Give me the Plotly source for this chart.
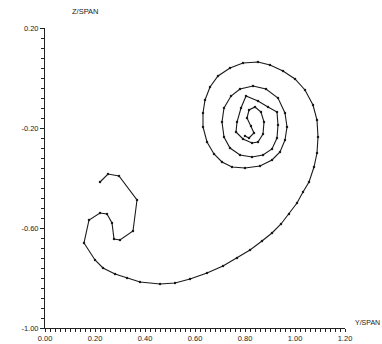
import plotly.graph_objects as go

# Trajectory (Y/SPAN, Z/SPAN)
y_span = [0.220, 0.252, 0.296, 0.368, 0.352, 0.300, 0.276, 0.268, 0.248, 0.220,
          0.176, 0.156, 0.200, 0.232, 0.280, 0.328, 0.380, 0.460, 0.520, 0.580,
          0.648, 0.712, 0.768, 0.820, 0.868, 0.908, 0.944, 0.976, 1.008, 1.032,
          1.056, 1.076, 1.088, 1.092, 1.088, 1.072, 1.040, 1.000, 0.952, 0.900,
          0.852, 0.792, 0.740, 0.692, 0.660, 0.640, 0.632, 0.632, 0.648, 0.676,
          0.708, 0.748, 0.800, 0.860, 0.908, 0.940, 0.960, 0.968, 0.960, 0.932,
          0.884, 0.832, 0.780, 0.744, 0.716, 0.708, 0.716, 0.740, 0.780, 0.828,
          0.872, 0.908, 0.928, 0.932, 0.928, 0.892, 0.852, 0.804, 0.784, 0.768,
          0.764, 0.792, 0.828, 0.852, 0.872, 0.876, 0.864, 0.840, 0.816, 0.808,
          0.824, 0.836, 0.816, 0.800]
z_span = [-0.416, -0.384, -0.392, -0.488, -0.612, -0.648, -0.644, -0.580, -0.544, -0.540,
          -0.568, -0.660, -0.728, -0.760, -0.784, -0.800, -0.816, -0.824, -0.820, -0.804,
          -0.780, -0.752, -0.720, -0.688, -0.652, -0.620, -0.584, -0.544, -0.500, -0.456,
          -0.416, -0.356, -0.300, -0.236, -0.168, -0.108, -0.048, -0.004, 0.028, 0.052,
          0.064, 0.060, 0.040, 0.008, -0.036, -0.088, -0.140, -0.196, -0.256, -0.304,
          -0.336, -0.356, -0.360, -0.352, -0.328, -0.296, -0.248, -0.196, -0.140, -0.080,
          -0.044, -0.032, -0.044, -0.072, -0.120, -0.176, -0.236, -0.280, -0.308, -0.316,
          -0.308, -0.284, -0.240, -0.188, -0.136, -0.116, -0.092, -0.072, -0.120, -0.176,
          -0.216, -0.244, -0.260, -0.256, -0.224, -0.176, -0.136, -0.116, -0.128, -0.160,
          -0.192, -0.220, -0.240, -0.232]

x_tickvals = [0.0, 0.2, 0.4, 0.6, 0.8, 1.0, 1.2]
x_ticktext = ["0.00", "0.20", "0.40", "0.60", "0.80", "1.00", "1.20"]
y_tickvals = [0.2, -0.2, -0.6, -1.0]
y_ticktext = ["0.20", "-0.20", "-0.60", "-1.00"]

fig = go.Figure()
fig.add_trace(go.Scatter(
    x=y_span, y=z_span, mode="lines+markers",
    line=dict(color="#1a1a1a", width=1.1),
    marker=dict(color="#1a1a1a", size=2.5),
    showlegend=False, hoverinfo="skip",
))

font = dict(family="Liberation Sans, DejaVu Sans, sans-serif", size=7.5, color="#222")

fig.update_layout(
    width=382, height=344,
    margin=dict(l=45, r=37, t=28, b=16),
    paper_bgcolor="white", plot_bgcolor="white",
    font=font,
    xaxis=dict(
        range=[0, 1.2], showgrid=False, zeroline=False,
        showline=True, linecolor="#222", linewidth=1,
        ticks="outside", ticklen=3, tickcolor="#222",
        tickvals=x_tickvals, ticktext=x_ticktext,
        minor=dict(dtick=0.02, tick0=0, ticks="outside", ticklen=3, tickcolor="#222"),
        automargin=False, tickfont=font,
    ),
    yaxis=dict(
        range=[-1.0, 0.2], showgrid=False, zeroline=False,
        showline=True, linecolor="#222", linewidth=1,
        ticks="outside", ticklen=4, tickcolor="#222",
        tickvals=y_tickvals, ticktext=y_ticktext,
        minor=dict(dtick=0.04, tick0=0.2, ticks="outside", ticklen=3, tickcolor="#222"),
        automargin=False, tickfont=font,
    ),
    annotations=[
        dict(text="Z/SPAN", xref="paper", yref="paper", x=0.135, y=1.055,
             showarrow=False, font=font, xanchor="center", yanchor="middle"),
        dict(text="Y/SPAN", xref="paper", yref="paper", x=1.025, y=0.02,
             showarrow=False, font=dict(family=font["family"], size=7, color="#222"),
             xanchor="left", yanchor="middle"),
    ],
)

fig.write_html("out.html", config={"displayModeBar": False},
               post_script="document.body.style.margin='0px';")
